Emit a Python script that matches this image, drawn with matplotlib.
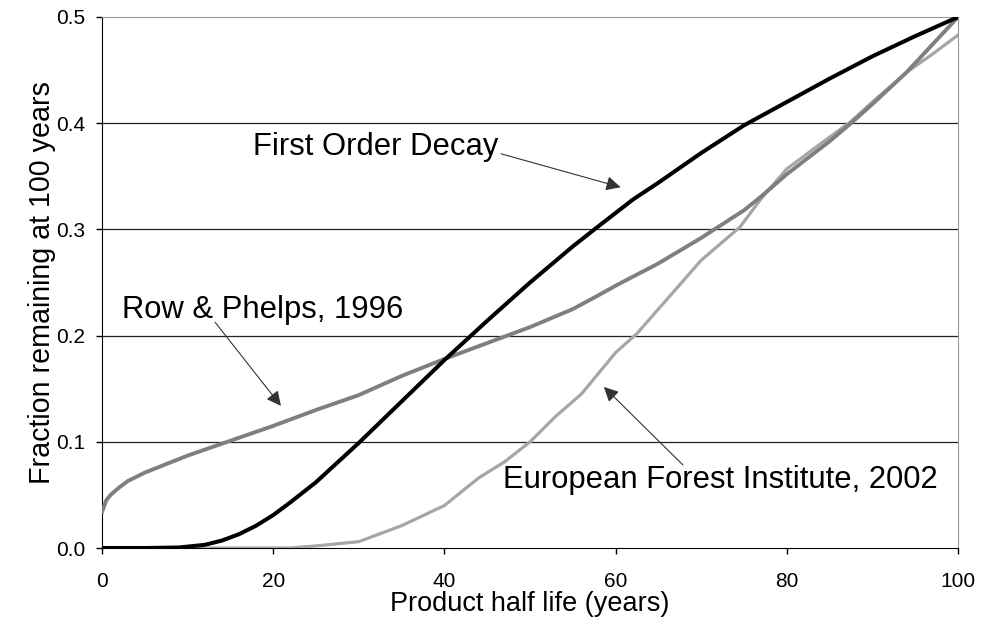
import numpy as np
import matplotlib
matplotlib.use("Agg")
import matplotlib.pyplot as plt

plt.rcParams['font.family'] = ['Liberation Sans', 'DejaVu Sans']

# first order decay (black)
fod_x = [0, 5, 9, 12, 14, 16, 18, 20, 22, 25, 30, 35, 40, 45, 50, 55, 58, 62, 65, 70, 75, 80, 85, 90, 95, 100]
fod_y = [0, 0, 0.0005, 0.003, 0.007, 0.013, 0.021, 0.031, 0.043, 0.062, 0.099, 0.138, 0.177, 0.214,
         0.25, 0.284, 0.303, 0.328, 0.344, 0.372, 0.398, 0.42, 0.442, 0.463, 0.482, 0.5]

# Row & Phelps, 1996 (dark grey)
rp_x = [0, 0.5, 1, 2, 3, 5, 7.5, 10, 15, 20, 25, 30, 35, 40, 45, 50, 55, 58, 60, 65, 70, 75, 77,
        80, 85, 87.5, 90, 94, 97, 100]
rp_y = [0.034, 0.045, 0.05, 0.057, 0.063, 0.071, 0.079, 0.087, 0.101, 0.115, 0.13, 0.144, 0.162,
        0.178, 0.193, 0.208, 0.225, 0.238, 0.247, 0.268, 0.292, 0.318, 0.331, 0.352, 0.383, 0.4,
        0.418, 0.448, 0.474, 0.5]

# European Forest Institute, 2002 (light grey)
efi_x = [0, 22, 25, 30, 35, 40, 44, 47, 50, 53, 56, 60, 62.5, 65, 70, 74.5, 77, 80, 84, 87.4,
         90, 94, 97, 100]
efi_y = [0, 0, 0.002, 0.006, 0.021, 0.04, 0.066, 0.081, 0.1, 0.124, 0.145, 0.184, 0.202, 0.225,
         0.271, 0.302, 0.329, 0.357, 0.381, 0.401, 0.42, 0.448, 0.465, 0.483]

fig = plt.figure(figsize=(9.82, 6.39), dpi=100)
ax = fig.add_axes([0.1039, 0.1424, 0.8717, 0.831])

for yv in [0.1, 0.2, 0.3, 0.4]:
    ax.axhline(yv, color='#222222', lw=0.9, zorder=1)

ax.plot(efi_x, efi_y, color='#a6a6a6', lw=2.3, zorder=3)
ax.plot(rp_x, rp_y, color='#7f7f7f', lw=2.8, zorder=4)
ax.plot(fod_x, fod_y, color='black', lw=2.9, zorder=5)

ax.set_xlim(0, 100)
ax.set_ylim(0, 0.5)
ax.set_xticks([0, 20, 40, 60, 80, 100])
ax.set_yticks([0.0, 0.1, 0.2, 0.3, 0.4, 0.5])
ax.set_yticklabels(['0.0', '0.1', '0.2', '0.3', '0.4', '0.5'])
ax.tick_params(direction='out', length=4, width=1, labelsize=15)
ax.tick_params(axis='y', pad=8)
ax.tick_params(axis='x', pad=13)

ax.spines['top'].set_color('#999999')
ax.spines['right'].set_color('#999999')
ax.spines['left'].set_color('black')
ax.spines['bottom'].set_color('black')

ax.set_xlabel('Product half life (years)', fontsize=19.5, labelpad=0)
ax.set_ylabel('Fraction remaining at 100 years', fontsize=20.6, labelpad=0)

arrow = dict(arrowstyle='-|>', color='#333333', lw=0.8, mutation_scale=22)
ax.text(17.6, 0.370, 'First Order Decay', fontsize=22.3, va='baseline', ha='left')
ax.annotate('', xy=(60.9, 0.339), xytext=(46.3, 0.3719), arrowprops=arrow)

ax.text(2.3, 0.2166, 'Row & Phelps, 1996', fontsize=22.3, va='baseline', ha='left')
ax.annotate('', xy=(21.1, 0.1318), xytext=(13.0, 0.2147), arrowprops=arrow)

ax.text(46.8, 0.0565, 'European Forest Institute, 2002', fontsize=22.3, va='baseline', ha='left')
ax.annotate('', xy=(58.4, 0.1535), xytext=(68.1, 0.0763), arrowprops=arrow)

fig.savefig('out.png', dpi=100)
